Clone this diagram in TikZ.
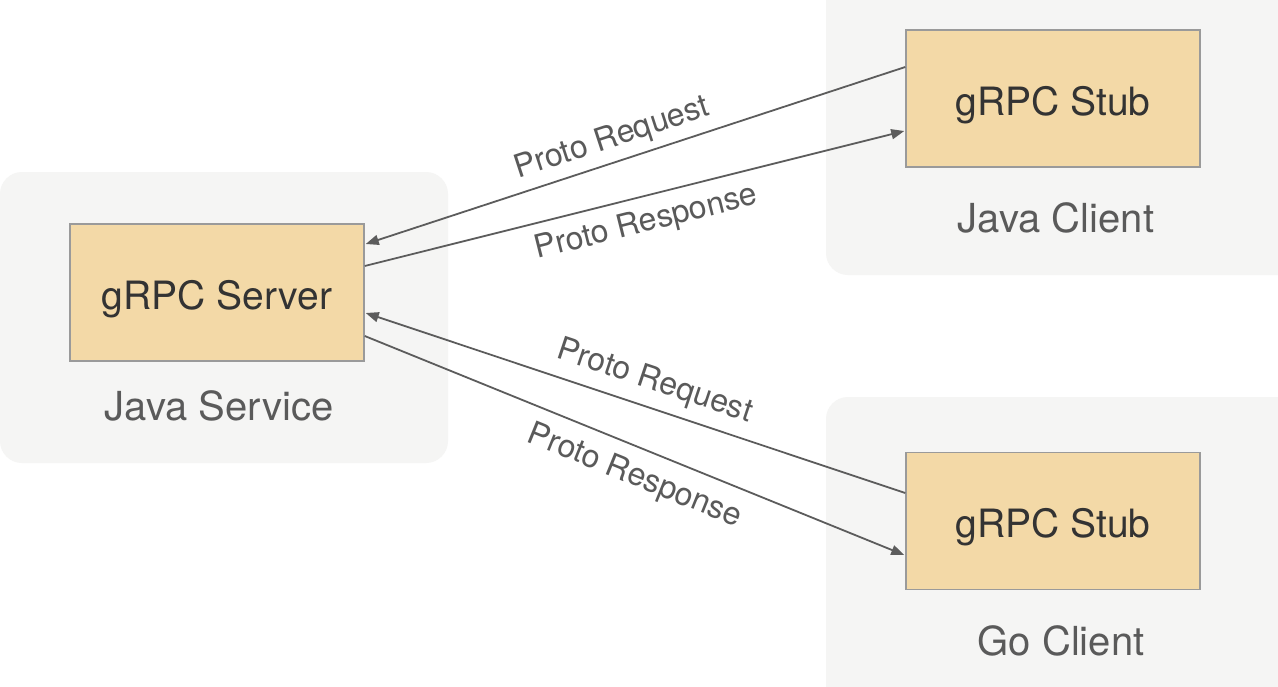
\documentclass[tikz,border=0pt]{standalone}
\usepackage{fontspec}
\setmainfont{TeX Gyre Heros}
\usetikzlibrary{arrows.meta,calc}
\definecolor{bgc}{HTML}{F5F5F4}
\definecolor{boxfill}{HTML}{F3D9A7}
\definecolor{boxline}{HTML}{9A9A9A}
\definecolor{boxtext}{HTML}{333333}
\definecolor{labtext}{HTML}{5A5A5A}
\definecolor{arrowc}{HTML}{5C5C5C}
\begin{document}
\begin{tikzpicture}[x=1pt,y=-1pt,
  bgpanel/.style={fill=bgc,draw=none,rounded corners=22pt},
  compbox/.style={draw=boxline,line width=1.5pt,fill=boxfill,minimum width=294pt,minimum height=137pt,inner sep=0pt,
    font=\fontsize{39}{42}\selectfont,text=boxtext,text height=33pt,text depth=0pt},
  grouplabel/.style={font=\fontsize{40}{43}\selectfont,text=labtext,inner sep=0pt},
  conn/.style={draw=arrowc,line width=1.8pt,-{Triangle[length=13pt,width=10pt]}},
  elabel/.style={font=\fontsize{32}{35}\selectfont,text=labtext,sloped,inner sep=0pt}
]
\useasboundingbox (0,0) rectangle (1278,686);
\clip (0,0) rectangle (1278,686);
\fill[white] (0,0) rectangle (1278,686);
% panels
\path[bgpanel] (0,172) rectangle (448,463);
\path[bgpanel] (826,-40) rectangle (1300,275);
\path[bgpanel] (826,397) rectangle (1300,730);
% boxes
\node[compbox] (server) at (217,292.5) {gRPC Server};
\node[compbox] (stubj) at (1053,98.5) {gRPC Stub};
\node[compbox] (stubg) at (1053,521) {gRPC Stub};
% group labels
\node[grouplabel] (lsvc) at (219,406) {Java Service};
\node[grouplabel] (ljc) at (1056,217.5) {Java Client};
\node[grouplabel] (lgc) at (1061,641) {Go Client};
% connectors
\coordinate (s1) at ($(server.east)+(1,-48.5)$);
\coordinate (s2) at ($(server.east)+(0,-26.5)$);
\coordinate (s3) at ($(server.east)+(1,20.5)$);
\coordinate (s4) at ($(server.east)+(0,43.5)$);
\coordinate (j1) at ($(stubj.west)+(0,-31.5)$);
\coordinate (j2) at ($(stubj.west)+(-1,32.5)$);
\coordinate (g1) at ($(stubg.west)+(0,-28)$);
\coordinate (g2) at ($(stubg.west)+(-1,34)$);
\draw[conn] (j1) -- node[elabel,pos=0.53,above=23pt,anchor=center] (lr1) {Proto Request} (s1);
\draw[conn] (s2) -- node[elabel,pos=0.51,below=27pt,anchor=center] (lp1) {Proto Response} (j2);
\draw[conn] (g1) -- node[elabel,pos=0.48,above=26pt,anchor=center] (lr2) {Proto Request} (s3);
\draw[conn] (s4) -- node[elabel,pos=0.52,below=29pt,anchor=center] (lp2) {Proto Response} (g2);
\end{tikzpicture}
\end{document}
